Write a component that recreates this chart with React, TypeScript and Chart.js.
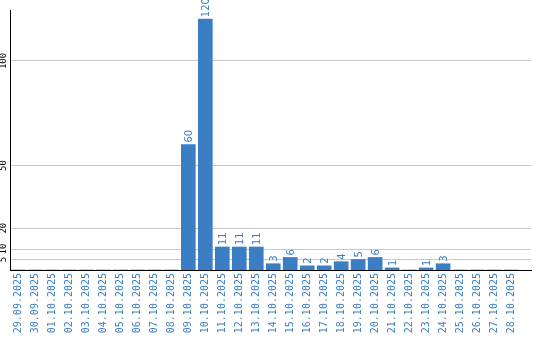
import React, { useEffect, useRef } from "react";
import { Chart, registerables } from "chart.js";

Chart.register(...registerables);

const dates = [
  "29.09.2025", "30.09.2025", "01.10.2025", "02.10.2025", "03.10.2025",
  "04.10.2025", "05.10.2025", "06.10.2025", "07.10.2025", "08.10.2025",
  "09.10.2025", "10.10.2025", "11.10.2025", "12.10.2025", "13.10.2025",
  "14.10.2025", "15.10.2025", "16.10.2025", "17.10.2025", "18.10.2025",
  "19.10.2025", "20.10.2025", "21.10.2025", "22.10.2025", "23.10.2025",
  "24.10.2025", "25.10.2025", "26.10.2025", "27.10.2025", "28.10.2025",
];
const counts = [
  0, 0, 0, 0, 0, 0, 0, 0, 0, 0,
  60, 120, 11, 11, 11, 3, 6, 2, 2, 4,
  5, 6, 1, 0, 1, 3, 0, 0, 0, 0,
];
const yTicks = [5, 10, 20, 50, 100];

const BLUE = "#3b7ec4";

const extrasPlugin = {
  id: "extras",
  afterDraw(chart: any) {
    const ctx = chart.ctx;
    const y = chart.scales.y;
    const area = chart.chartArea;
    ctx.save();
    // y tick labels, rotated
    ctx.fillStyle = "#000";
    ctx.font = "9px 'DejaVu Sans Mono'";
    ctx.textAlign = "center";
    ctx.textBaseline = "middle";
    yTicks.forEach((v) => {
      const py = y.getPixelForValue(v);
      ctx.save();
      ctx.translate(area.left - 6, py);
      ctx.rotate(-Math.PI / 2);
      ctx.fillText(String(v), 0, 0);
      ctx.restore();
    });
    // value labels
    ctx.fillStyle = BLUE;
    ctx.font = "10px 'DejaVu Sans'";
    ctx.textAlign = "left";
    ctx.textBaseline = "middle";
    const meta = chart.getDatasetMeta(0);
    meta.data.forEach((bar: any, i: number) => {
      const v = counts[i];
      if (!v) return;
      ctx.save();
      ctx.translate(bar.x + 1, bar.y - 2);
      ctx.rotate(-Math.PI / 2);
      ctx.fillText(String(v), 0, 0);
      ctx.restore();
    });
    ctx.restore();
  },
};

export default function App() {
  const ref = useRef<HTMLCanvasElement | null>(null);
  useEffect(() => {
    if (!ref.current) return;
    const chart = new Chart(ref.current, {
      type: "bar",
      data: {
        datasets: [
          {
            data: counts.map((v, i) => ({ x: i, y: v })),
            backgroundColor: BLUE,
            borderWidth: 0,
            barThickness: 14,
          },
        ],
      },
      options: {
        animation: false,
        responsive: false,
        devicePixelRatio: 1,
        layout: { padding: { left: 10, top: 10, right: 9, bottom: 0 } },
        plugins: { legend: { display: false }, tooltip: { enabled: false } },
        scales: {
          x: {
            type: "linear",
            offset: false,
            min: -0.5,
            max: 29.5 + 11.5 / 17,
            grid: { display: false, drawTicks: false, offset: false },
            border: { display: true, color: "#000", width: 1 },
            afterBuildTicks: (scale: any) => {
              scale.ticks = dates.map((_, i) => ({ value: i }));
            },
            afterFit: (scale: any) => {
              scale.height = 70;
            },
            ticks: {
              autoSkip: false,
              minRotation: 90,
              maxRotation: 90,
              padding: 3,
              color: BLUE,
              font: { family: "'DejaVu Sans Mono'", size: 10 },
              callback: (v: any) => dates[v] ?? "",
            },
          },
          y: {
            min: 0,
            max: 124.4,
            afterBuildTicks: (scale: any) => {
              scale.ticks = yTicks.map((v) => ({ value: v }));
            },
            afterFit: (scale: any) => {
              scale.width = 0;
            },
            ticks: { display: false },
            grid: { color: "#c8c8c8", drawTicks: false, lineWidth: 1 },
            border: { display: true, color: "#000", width: 1 },
          },
        },
      },
      plugins: [extrasPlugin],
    } as any);
    return () => chart.destroy();
  }, []);
  return (
    <div style={{ position: "absolute", left: 0, top: 0, width: 540, height: 340, background: "#fff" }}>
      <canvas ref={ref} width={540} height={340} style={{ width: 540, height: 340 }} />
    </div>
  );
}
